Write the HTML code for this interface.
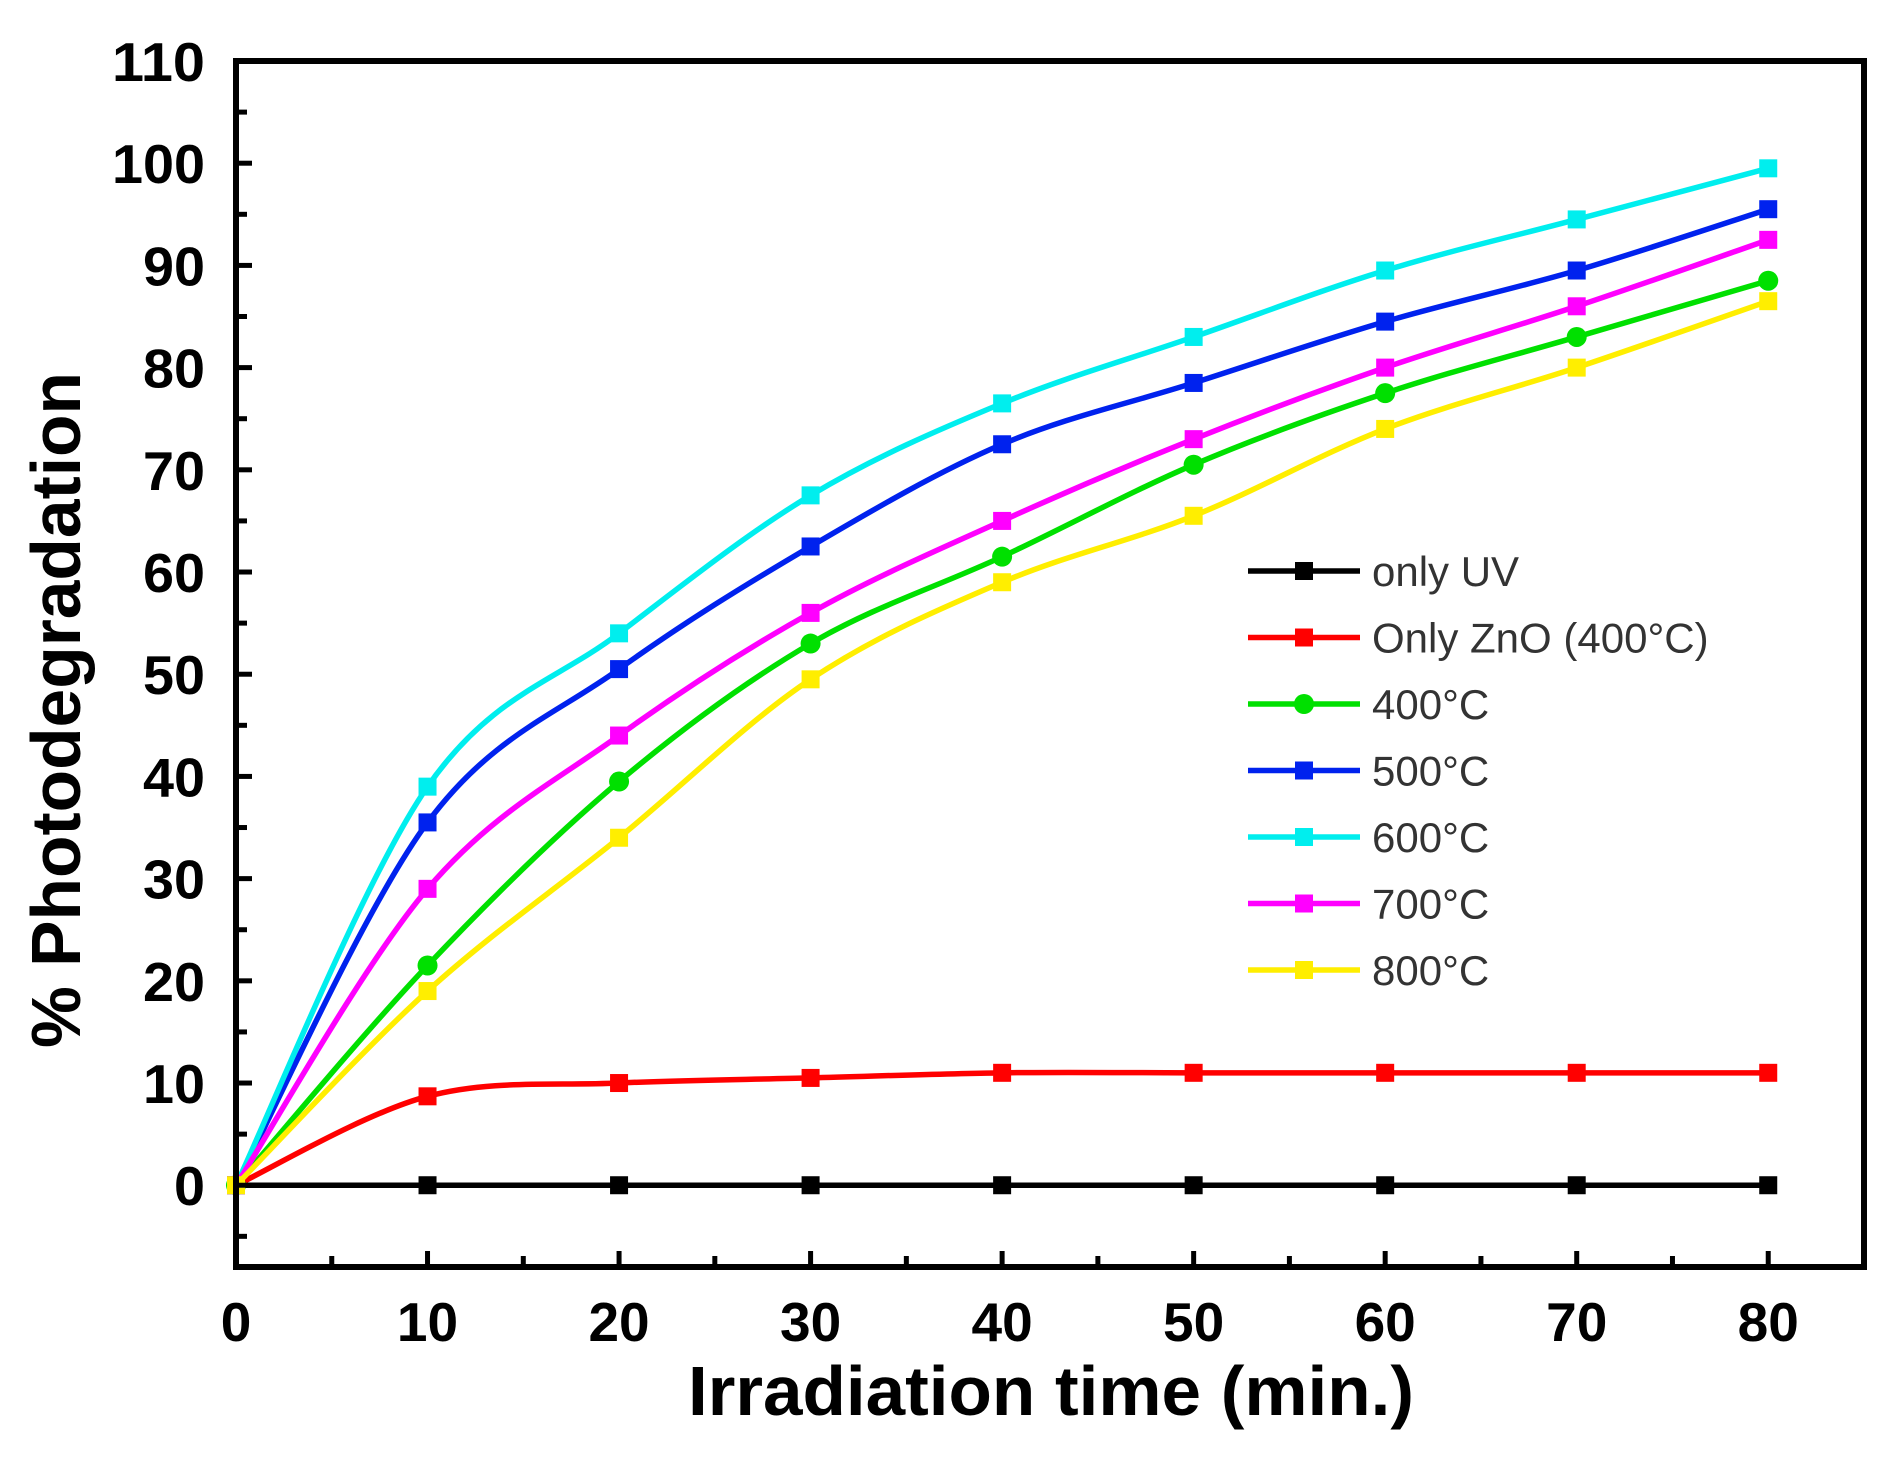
<!DOCTYPE html>
<html><head><meta charset="utf-8"><style>
html,body{margin:0;padding:0;background:#fff;}
svg{display:block;}
text{font-family:"Liberation Sans",sans-serif;}
</style></head><body>
<svg id="chart" width="1901" height="1459" viewBox="0 0 1901 1459" xmlns="http://www.w3.org/2000/svg">
<g id="series"></g>
<g id="axes"></g>
<g id="legend"></g>
<text x="688" y="1415" textLength="726" lengthAdjust="spacingAndGlyphs" font-size="70" font-weight="bold">Irradiation time (min.)</text>
<text transform="translate(80,1048) rotate(-90)" x="0" y="0" textLength="676" lengthAdjust="spacingAndGlyphs" font-size="70" font-weight="bold">% Photodegradation</text>
</svg>
<script>
const xTimes=[0,10,20,30,40,50,60,70,80];
const onlyUV=[0,0,0,0,0,0,0,0,0];
const onlyZnO=[0,8.7,10,10.5,11,11,11,11,11];
const t400=[0,21.5,39.5,53,61.5,70.5,77.5,83,88.5];
const t500=[0,35.5,50.5,62.5,72.5,78.5,84.5,89.5,95.5];
const t600=[0,39,54,67.5,76.5,83,89.5,94.5,99.5];
const t700=[0,29,44,56,65,73,80,86,92.5];
const t800=[0,19,34,49.5,59,65.5,74,80,86.5];
const xTicks=[0,10,20,30,40,50,60,70,80];
const yTicks=[0,10,20,30,40,50,60,70,80,90,100,110];
const seriesNames=["only UV","Only ZnO (400°C)","400°C","500°C","600°C","700°C","800°C"];
const NS="http://www.w3.org/2000/svg";
const L=236,R=1864,T=61,B=1267;
const X0=0,X1=85,Y0=-8,Y1=110;
function sx(v){return L+(v-X0)/(X1-X0)*(R-L);}
function sy(v){return B-(v-Y0)/(Y1-Y0)*(B-T);}
function mk(tag,attrs,parent){const e=document.createElementNS(NS,tag);for(const k in attrs)e.setAttribute(k,attrs[k]);parent.appendChild(e);return e;}
const gS=document.getElementById('series'),gA=document.getElementById('axes'),gL=document.getElementById('legend');
const series=[
 {d:onlyUV,c:"#000000",m:"sq",k:"only-uv"},
 {d:onlyZnO,c:"#ff0000",m:"sq",k:"only-zno"},
 {d:t400,c:"#00e000",m:"ci",k:"400c"},
 {d:t500,c:"#0022ee",m:"sq",k:"500c"},
 {d:t600,c:"#00eeee",m:"sq",k:"600c"},
 {d:t700,c:"#ff00ff",m:"sq",k:"700c"},
 {d:t800,c:"#ffee00",m:"sq",k:"800c"}];
function curve(d){
 const p=xTimes.map((x,i)=>[sx(x),sy(d[i])]);
 let s="M"+p[0][0]+","+p[0][1];
 for(let i=0;i<p.length-1;i++){
  const p0=p[Math.max(0,i-1)],p1=p[i],p2=p[i+1],p3=p[Math.min(p.length-1,i+2)];
  const c1=[p1[0]+(p2[0]-p0[0])/6,p1[1]+(p2[1]-p0[1])/6];
  const c2=[p2[0]-(p3[0]-p1[0])/6,p2[1]-(p3[1]-p1[1])/6];
  s+=" C"+c1[0]+","+c1[1]+" "+c2[0]+","+c2[1]+" "+p2[0]+","+p2[1];
 }
 return s;
}
function marker(type,x,y,c,parent){
 let e;
 if(type==="ci"){e=mk('circle',{cx:x,cy:y,r:10,fill:c},parent);}
 else{e=mk('rect',{x:x-9,y:y-9,width:18,height:18,fill:c},parent);}
 return e;
}
series.forEach(s=>{
 const g=mk('g',{},gS);
 
 
 const p=mk('path',{d:curve(s.d),fill:"none",stroke:s.c,"stroke-width":5.5},g);
 
 
 xTimes.forEach((x,i)=>{
  const m=marker(s.m,sx(x),sy(s.d[i]),s.c,g);
  
  
 });
});
const fr=mk('rect',{x:L,y:T,width:R-L,height:B-T,fill:"none",stroke:"#000","stroke-width":6},gA);


for(let v=0;v<=X1;v+=5){
 const len=(v%10===0)?16:11;
 const t=mk('line',{x1:sx(v),x2:sx(v),y1:B,y2:B-len,stroke:"#000","stroke-width":5},gA);
 
 
}
for(let v=-5;v<=Y1;v+=5){
 const len=(v%10===0)?16:11;
 const t=mk('line',{x1:L,x2:L+len,y1:sy(v),y2:sy(v),stroke:"#000","stroke-width":5},gA);
 
 
}
xTicks.forEach(v=>{
 const t=mk('text',{x:sx(v),y:1341,"text-anchor":"middle","font-size":55,"font-weight":"bold"},gA);
 t.textContent=v;
 
 
});
yTicks.forEach(v=>{
 const w=String(v).length*31;
 const t=mk('text',{x:205-w,y:sy(v)+20,"font-size":55,"font-weight":"bold",textLength:w,lengthAdjust:"spacingAndGlyphs"},gA);
 t.textContent=v;
 
 
});
series.forEach((s,i)=>{
 const y=571+i*66.5;
 const g=mk('g',{},gL);
 
 
 mk('line',{x1:1248,x2:1360,y1:y,y2:y,stroke:s.c,"stroke-width":5.5},g);
 marker(s.m,1304,y,s.c,g);
 const t=mk('text',{x:1372,y:y+15,"font-size":42,fill:"#333"},g);
 t.textContent=seriesNames[i];
});
</script>
</body></html>
